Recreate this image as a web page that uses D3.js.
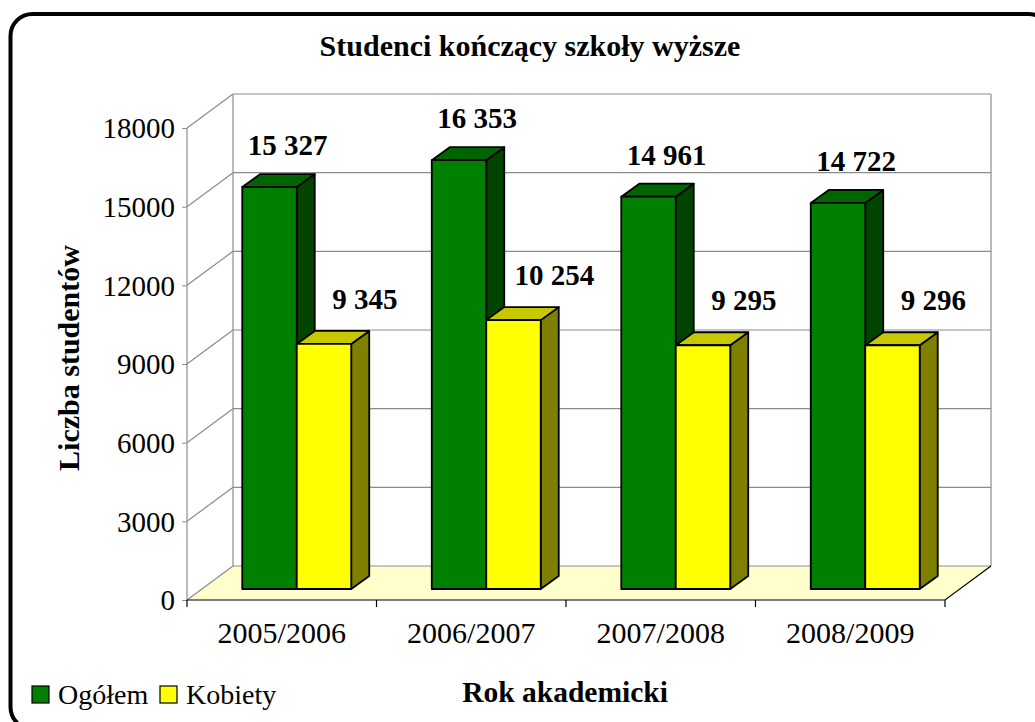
<!DOCTYPE html>
<html><head><meta charset="utf-8">
<script src="https://cdn.jsdelivr.net/npm/d3@7"></script>
<style>html,body{margin:0;padding:0;background:#fff;}svg{display:block;}</style>
</head><body><svg id="c" width="1035" height="722"></svg>
<script>
const categories = ["2005/2006","2006/2007","2007/2008","2008/2009"];
const seriesNames = ["Ogółem","Kobiety"];
const ogolem = [15327, 16353, 14961, 14722];
const kobiety = [9345, 10254, 9295, 9296];
const labelsOgolem = ["15 327","16 353","14 961","14 722"];
const labelsKobiety = ["9 345","10 254","9 295","9 296"];
const yTicks = [0,3000,6000,9000,12000,15000,18000];
const title = "Studenci kończący szkoły wyższe";
const yTitle = "Liczba studentów";
const xTitle = "Rok akademicki";

const FF = "'Liberation Serif','Times New Roman',serif";
const svg = d3.select("#c");
// Frame
svg.append("rect").attr("x",10.5).attr("y",14).attr("width",1040).attr("height",715)
  .attr("rx",22).attr("ry",22).attr("fill","#fff").attr("stroke","#000").attr("stroke-width",4);

// plot geometry
const X0 = 187, X1 = 945, Y0 = 600, YT = 128;
const DX = 46, DY = -34;         // depth of the box
const BZX = 15, BZY = -11;       // bar front offset into depth
const BDX = 18, BDY = -13;       // bar depth
const y = d3.scaleLinear().domain([0,18000]).range([Y0, YT]);
const x0 = d3.scaleBand().domain(categories).range([X0, X1]).padding(0);
const groupW = x0.bandwidth()*0.575;
const x1 = d3.scaleBand().domain(seriesNames).range([0, groupW]).padding(0);
const grid = "#8c8c8c";

// floor
svg.append("path").attr("d",`M${X0},${Y0}L${X1},${Y0}L${X1+DX},${Y0+DY}L${X0+DX},${Y0+DY}Z`)
  .attr("fill","#ffffcc").attr("stroke","none");
// back wall gridlines
yTicks.forEach(t=>{
  const yy = y(t)+DY;
  svg.append("line").attr("x1",X0+DX).attr("x2",X1+DX).attr("y1",yy).attr("y2",yy)
    .attr("stroke",grid).attr("stroke-width",1.2);
  svg.append("line").attr("x1",X0).attr("x2",X0+DX).attr("y1",y(t)).attr("y2",yy)
    .attr("stroke",grid).attr("stroke-width",1.2);
});
svg.append("line").attr("x1",X0+DX).attr("x2",X0+DX).attr("y1",y(0)+DY).attr("y2",y(18000)+DY).attr("stroke",grid).attr("stroke-width",1.2);
svg.append("line").attr("x1",X1+DX).attr("x2",X1+DX).attr("y1",y(0)+DY).attr("y2",y(18000)+DY).attr("stroke",grid).attr("stroke-width",1.2);
svg.append("line").attr("x1",X0).attr("x2",X0).attr("y1",Y0).attr("y2",YT).attr("stroke",grid).attr("stroke-width",1.2);
svg.append("path").attr("d",`M${X0},${Y0}L${X1},${Y0}L${X1+DX},${Y0+DY}`).attr("fill","none").attr("stroke","#000").attr("stroke-width",1.2);

// y axis
const yAxis = d3.axisLeft(y).tickValues(yTicks).tickSize(5).tickPadding(7).tickFormat(d3.format("d"));
const ga = svg.append("g").attr("transform",`translate(${X0},0)`).call(yAxis);
ga.select(".domain").remove();
ga.selectAll(".tick line").attr("stroke",grid);
ga.selectAll(".tick text").attr("font-size",29).attr("font-family",FF).attr("fill","#000").attr("dy","0.34em");

// x axis
const xAxis = d3.axisBottom(x0).tickSize(0).tickPadding(22);
const gx = svg.append("g").attr("transform",`translate(0,${Y0})`).call(xAxis);
gx.select(".domain").remove();
gx.selectAll(".tick text").attr("font-size",30).attr("font-family",FF).attr("fill","#000");
const bounds = categories.map(c=>x0(c)).concat([X1]);
bounds.forEach(b=>svg.append("line").attr("x1",b).attr("x2",b).attr("y1",Y0).attr("y2",Y0+7).attr("stroke","#000").attr("stroke-width",1.2));

// bars
const yb = d3.scaleLinear().domain([0,18000]).range([Y0+BZY, YT+BZY]);
const styles = {
  "Ogółem": {front:"#008000", top:"#006400", side:"#004400"},
  "Kobiety": {front:"#ffff00", top:"#c8c800", side:"#808000"}
};
const data = [];
categories.forEach((c,i)=>{
  data.push({c, s:"Ogółem", v:ogolem[i], lab:labelsOgolem[i]});
  data.push({c, s:"Kobiety", v:kobiety[i], lab:labelsKobiety[i]});
});
const off = (x0.bandwidth()-groupW)/2;
const gb = svg.append("g");
data.forEach(d=>{
  const xl = x0(d.c)+off+x1(d.s)+BZX, xr = xl + x1.bandwidth();
  const yt = yb(d.v), ybot = yb(0);
  const st = styles[d.s];
  const g = gb.append("g").attr("stroke","#000").attr("stroke-width",1.8).attr("stroke-linejoin","round");
  g.append("path").attr("d",`M${xr},${ybot}L${xr+BDX},${ybot+BDY}L${xr+BDX},${yt+BDY}L${xr},${yt}Z`).attr("fill",st.side);
  g.append("path").attr("d",`M${xl},${yt}L${xr},${yt}L${xr+BDX},${yt+BDY}L${xl+BDX},${yt+BDY}Z`).attr("fill",st.top);
  g.append("rect").attr("x",xl).attr("y",yt).attr("width",xr-xl).attr("height",ybot-yt).attr("fill",st.front);
  d.cx = (xl+xr)/2; d.ty = yt;
});
// labels
data.forEach(d=>{
  const isG = d.s==="Ogółem";
  svg.append("text").attr("x",d.cx+(isG?18:41)).attr("y",d.ty-(isG?32:35))
    .attr("text-anchor","middle").attr("font-family",FF).attr("font-size",29).attr("font-weight","bold").text(d.lab);
});

// titles
svg.append("text").attr("x",530).attr("y",56).attr("text-anchor","middle").attr("font-family",FF).attr("font-size",30).attr("font-weight","bold").text(title);
svg.append("text").attr("transform","translate(79,358) rotate(-90)").attr("text-anchor","middle").attr("font-family",FF).attr("font-size",30).attr("font-weight","bold").text(yTitle);
svg.append("text").attr("x",565).attr("y",702).attr("text-anchor","middle").attr("font-family",FF).attr("font-size",29.5).attr("font-weight","bold").text(xTitle);

// legend
const leg = svg.append("g");
const legX = [32, 160];
seriesNames.forEach((s,i)=>{
  leg.append("rect").attr("x",legX[i]).attr("y",686).attr("width",17).attr("height",17)
    .attr("fill",styles[s].front).attr("stroke","#000").attr("stroke-width",1.2);
  leg.append("text").attr("x",legX[i]+26).attr("y",704).attr("font-family",FF).attr("font-size",28).text(s);
});
</script></body></html>
